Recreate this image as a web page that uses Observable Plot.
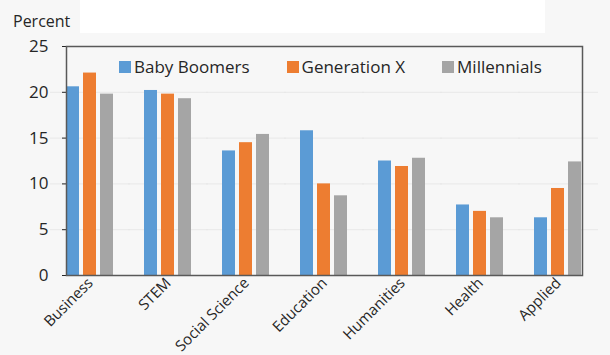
<!DOCTYPE html>
<html>
<head>
<meta charset="utf-8">
<script src="https://cdn.jsdelivr.net/npm/d3@7"></script>
<script src="https://cdn.jsdelivr.net/npm/@observablehq/plot@0.6"></script>
<style>
  html, body { margin: 0; padding: 0; background: #f7f7f7; }
  #wrap { position: relative; width: 610px; height: 355px; overflow: hidden; font-family: "Open Sans", sans-serif; }
  #paper { position: absolute; left: 80px; top: 0; width: 465px; height: 33px; background: #ffffff; }
  #chart { position: absolute; left: 0; top: 0; }
  #unit { position: absolute; left: 13px; top: 11px; font-size: 16px; line-height: 20px; color: #262626; }
  #legend { position: absolute; left: 119px; top: 50px; }
  #legend .key-swatches { font-family: "Open Sans", sans-serif; font-size: 17px; color: #262626; }
  #legend .key-swatch { margin-right: 37px; }
  #legend .key-swatch > svg { margin-right: 3px; }
</style>
</head>
<body>
<div id="wrap">
  <div id="paper"></div>
  <div id="chart"></div>
  <div id="unit">Percent</div>
  <div id="legend"></div>
</div>
<script>
// Share of degrees by field, per generation
const categories = ["Business", "STEM", "Social Science", "Education", "Humanities", "Health", "Applied"];
const series = ["Baby Boomers", "Generation X", "Millennials"];
const boomers = [20.6, 20.2, 13.6, 15.8, 12.5, 7.7, 6.3];
const genX = [22.1, 19.8, 14.5, 10.0, 11.9, 7.0, 9.5];
const millennials = [19.8, 19.3, 15.4, 8.7, 12.8, 6.3, 12.4];
const yTicks = [0, 5, 10, 15, 20, 25];
const colors = ["#5B9BD5", "#ED7D31", "#A5A5A5"];

const valuesBySeries = [boomers, genX, millennials];
const rows = [];
categories.forEach((c, i) => {
  series.forEach((s, j) => rows.push({category: c, series: s, value: valuesBySeries[j][i]}));
});

const font = '"Open Sans", sans-serif';

const chart = Plot.plot({
  width: 610,
  height: 355,
  marginLeft: 49,
  marginRight: 10,
  marginTop: 46,
  marginBottom: 80,
  style: {background: "transparent", fontFamily: font, color: "#262626"},
  fx: {domain: categories, paddingInner: 0.38, paddingOuter: 0.19, label: null},
  x: {domain: series, paddingInner: 0.23, paddingOuter: 0, axis: null},
  y: {domain: [0, 25], label: null},
  color: {domain: series, range: colors},
  marks: [
    // faint gridlines, stretched across the gaps between field groups
    Plot.gridY(yTicks.slice(1, -1), {stroke: "#e8e8e8", strokeOpacity: 1, insetLeft: -16, insetRight: -16}),
    Plot.barY(rows, {fx: "category", x: "series", y: "value", fill: "series"}),
    Plot.axisY(yTicks, {tickSize: 4, tickPadding: 14, fontSize: 17, label: null}),
    Plot.axisFx({
      anchor: "bottom", tickSize: 0, tickPadding: 5, tickRotate: -45, fontSize: 15, label: null
    }),
    Plot.frame({facet: "super", stroke: "#595959", strokeWidth: 1.5})
  ]
});
document.getElementById("chart").appendChild(chart);

const legend = chart.legend("color", {swatchSize: 12, className: "key"});
document.getElementById("legend").appendChild(legend);
</script>
</body>
</html>
